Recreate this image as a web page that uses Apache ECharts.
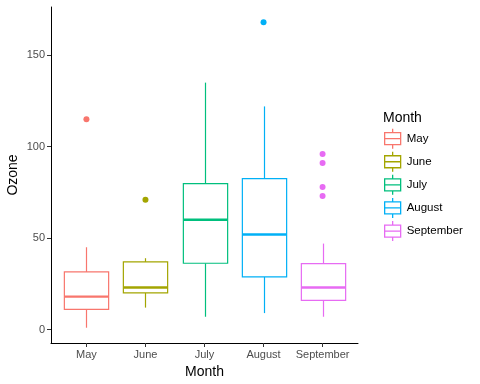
<!DOCTYPE html>
<html><head><meta charset="utf-8">
<script src="https://cdn.jsdelivr.net/npm/echarts@6/dist/echarts.min.js"></script>
<style>html,body{margin:0;padding:0;background:#fff}#c{width:480px;height:384px}</style>
</head><body><div id="c"></div>
<script>
// Month categories
const months = ['May', 'June', 'July', 'August', 'September'];
const colors = ['#F8766D', '#A3A500', '#00BF7D', '#00B0F6', '#E76BF3'];
// [lowerWhisker, Q1, median, Q3, upperWhisker]
const mayBox = [1, 11, 18, 31.5, 45];
const juneBox = [12, 20, 23, 37, 39];
const julyBox = [7, 36.25, 60, 79.75, 135];
const augustBox = [9, 28.75, 52, 82.5, 122];
const septemberBox = [7, 16, 23, 36, 47];
// outliers
const mayOut = [115];
const juneOut = [71];
const julyOut = [];
const augustOut = [168];
const septemberOut = [96, 91, 78, 73];
const yTicks = [0, 50, 100, 150];

const boxes = [mayBox, juneBox, julyBox, augustBox, septemberBox];
const outs = [mayOut, juneOut, julyOut, augustOut, septemberOut];
const FONT = 'Liberation Sans, Arial, sans-serif';

function renderBox(params, api) {
  const x = api.value(0);
  const lo = api.coord([x, api.value(1)]);
  const q1 = api.coord([x, api.value(2)]);
  const md = api.coord([x, api.value(3)]);
  const q3 = api.coord([x, api.value(4)]);
  const hi = api.coord([x, api.value(5)]);
  const w = api.size([0.75, 0])[0];
  const cx = Math.round(lo[0]) + 0.5;
  const col = api.visual('color');
  const st = {stroke: col, lineWidth: 1.2, fill: null};
  return {
    type: 'group',
    children: [
      {type: 'line', shape: {x1: cx, y1: hi[1], x2: cx, y2: q3[1]}, style: st},
      {type: 'line', shape: {x1: cx, y1: q1[1], x2: cx, y2: lo[1]}, style: st},
      {type: 'rect', shape: {x: cx - w / 2, y: q3[1], width: w, height: q1[1] - q3[1]}, style: {stroke: col, lineWidth: 1.2, fill: '#fff'}},
      {type: 'line', shape: {x1: cx - w / 2, y1: md[1], x2: cx + w / 2, y2: md[1]}, style: {stroke: col, lineWidth: 2.4}}
    ]
  };
}

const series = [];
months.forEach((m, i) => {
  series.push({
    name: m, type: 'custom', renderItem: renderBox,
    itemStyle: {color: colors[i]},
    data: [[i + 1].concat(boxes[i])],
    encode: {x: 0, y: [1, 2, 3, 4, 5]}
  });
  series.push({
    name: m, type: 'scatter', symbolSize: 6,
    itemStyle: {color: colors[i], opacity: 1},
    data: outs[i].map(v => [i + 1, v])
  });
});

const iconPath = 'path://M9,0L9,4M1,4L17,4L17,16L1,16ZM1,10L17,10M9,16L9,20';

const chart = echarts.init(document.getElementById('c'), null, {renderer: 'canvas'});
chart.setOption({
  animation: false,
  backgroundColor: '#fff',
  title: {text: 'Month', left: 383, top: 111, padding: 0, textStyle: {fontFamily: FONT, fontSize: 14, fontWeight: 'normal', color: '#000'}},
  legend: {
    orient: 'vertical', left: 384, top: 128, padding: 0, itemWidth: 18, itemHeight: 20, itemGap: 1.8,
    textStyle: {fontFamily: FONT, fontSize: 11.5, color: '#000'},
    data: months.map((m, i) => ({name: m, icon: iconPath, itemStyle: {color: '#fff', borderColor: colors[i], borderWidth: 1.3}}))
  },
  grid: {left: 51, right: 122, top: 7, bottom: 41, containLabel: false, outerBoundsMode: 'none'},
  xAxis: {
    type: 'value', min: 0.4, max: 5.6,
    name: 'Month', nameLocation: 'middle', nameGap: 22,
    nameTextStyle: {fontFamily: FONT, fontSize: 14, color: '#000'},
    axisLine: {onZero: false, lineStyle: {color: '#000', width: 1}},
    axisTick: {customValues: [1, 2, 3, 4, 5], length: 4, lineStyle: {color: '#333'}},
    axisLabel: {customValues: [1, 2, 3, 4, 5], formatter: v => months[Math.round(v) - 1], fontFamily: FONT, fontSize: 11, color: '#4D4D4D', margin: 6},
    splitLine: {show: false}
  },
  yAxis: {
    type: 'value', min: -7.35, max: 176.35,
    name: 'Ozone', nameLocation: 'middle', nameGap: 31, nameMoveOverlap: false,
    nameTextStyle: {fontFamily: FONT, fontSize: 14, color: '#000'},
    axisLine: {show: true, onZero: false, lineStyle: {color: '#000', width: 1}},
    axisTick: {show: true, customValues: yTicks, length: 4, lineStyle: {color: '#333'}},
    axisLabel: {customValues: yTicks, fontFamily: FONT, fontSize: 11, color: '#4D4D4D', margin: 6},
    splitLine: {show: false}
  },
  series: series
});
</script></body></html>
